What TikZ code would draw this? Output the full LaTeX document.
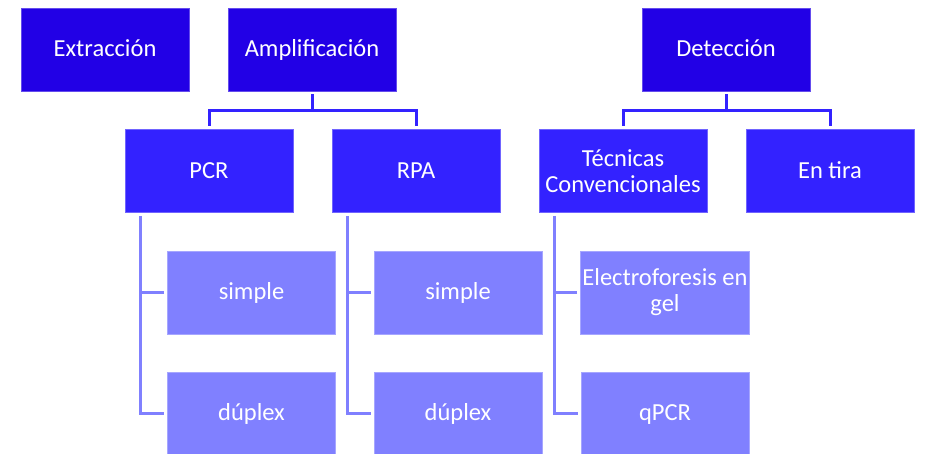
\documentclass[tikz,border=0pt]{standalone}
\usepackage{fontspec}
\setmainfont{Carlito}
\definecolor{lvA}{RGB}{34,0,230}
\definecolor{lvB}{RGB}{51,34,255}
\definecolor{lvC}{RGB}{128,128,255}
\begin{document}
\begin{tikzpicture}[x=1pt,y=-1pt,
  box/.style={rectangle,minimum width=168pt,minimum height=83pt,inner sep=2pt,
    text=white,align=center,font=\fontsize{24.5}{26}\selectfont,line width=0.8pt},
  one/.style={text height=18pt,text depth=4pt},
  top/.style={box,one,fill=lvA,draw=lvA!70!white},
  mid/.style={box,fill=lvB,draw=lvB!70!white},
  low/.style={box,fill=lvC,draw=lvC!70!white},
  cA/.style={draw=lvB,line width=3pt},
  cB/.style={draw=lvC,line width=2.5pt}]
\useasboundingbox (0,0) rectangle (925,453);
\node[top] (ext) at (105,49.5) {Extracción};
\node[top] (amp) at (312,49.5) {Amplificación};
\node[top] (det) at (726,49.5) {Detección};
\node[mid,one] (pcr) at (209,171) {PCR};
\node[mid,one] (rpa) at (416,171) {RPA};
\node[mid] (tec) at (623,171) {Técnicas\\Convencionales};
\node[mid,one] (tira) at (830,171) {En tira};
\node[low,one] (pcrs) at (251.5,292.5) {simple};
\node[low,one] (pcrd) at (251.5,413.5) {dúplex};
\node[low,one] (rpas) at (458,292.5) {simple};
\node[low,one] (rpad) at (458,413.5) {dúplex};
\node[low] (elec) at (665,292.5) {Electroforesis en\\gel};
\node[low,one] (qpcr) at (665,413.5) {qPCR};
% level 1 -> 2
\coordinate (ampb) at ([yshift=-3pt]amp.south);
\coordinate (ampm) at ([yshift=-19pt]amp.south);
\draw[cA] (ampb) -- (ampm) -| ([yshift=3pt]pcr.north);
\draw[cA] (ampm) -| ([yshift=3pt]rpa.north);
\coordinate (detb) at ([yshift=-3pt]det.south);
\coordinate (detm) at ([yshift=-19pt]det.south);
\draw[cA] (detb) -- (detm) -| ([yshift=3pt]tec.north);
\draw[cA] (detm) -| ([yshift=3pt]tira.north);
% level 2 -> 3
\coordinate (pcrt) at ([shift={(16pt,-3pt)}]pcr.south west);
\draw[cB] (pcrt) |- ([xshift=-3pt]pcrd.west);
\draw[cB] ([xshift=-3pt]pcrs.west) -- (pcrs.west -| pcrt);
\coordinate (rpat) at ([shift={(16pt,-3pt)}]rpa.south west);
\draw[cB] (rpat) |- ([xshift=-3pt]rpad.west);
\draw[cB] ([xshift=-3pt]rpas.west) -- (rpas.west -| rpat);
\coordinate (tect) at ([shift={(16pt,-3pt)}]tec.south west);
\draw[cB] (tect) |- ([xshift=-3pt]qpcr.west);
\draw[cB] ([xshift=-3pt]elec.west) -- (elec.west -| tect);
\end{tikzpicture}
\end{document}
